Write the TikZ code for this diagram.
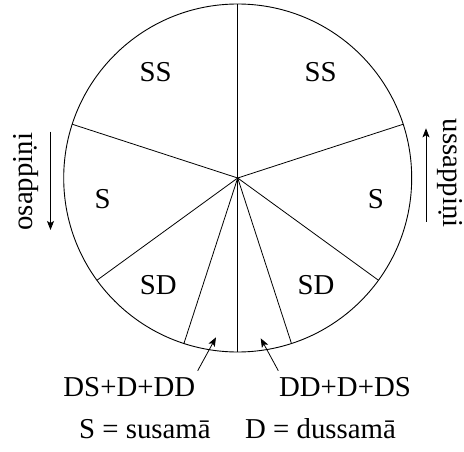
\documentclass[tikz,border=0pt]{standalone}
\usepackage{fontspec}
\setmainfont{Liberation Serif}
\usetikzlibrary{arrows.meta,calc}
\begin{document}
\begin{tikzpicture}[x=1pt,y=1pt,
  rim/.style={line width=0.9pt},
  spoke/.style={line width=0.8pt},
  lbl/.style={inner sep=0pt,anchor=base,font=\fontsize{28.8}{34}\selectfont},
  pointer/.style={line width=0.8pt,-{Stealth[length=9pt,width=7pt,inset=2pt]}}]
\clip (0,0) rectangle (464,451);
\fill[white] (0,0) rectangle (464,451);

% the wheel and its eight spokes
\coordinate (hub) at (237.7,273);
\draw[rim] (hub) circle[radius=174];
\foreach \ang [count=\i] in {90,18,-36,-72,-90,-108,-144,162}
  \coordinate (r\i) at ($(hub)+(\ang:174)$);
\foreach \i in {1,...,8}
  \draw[spoke] (hub) -- (r\i);

% sector names
\node[lbl] (ssl) at (155.7,370) {SS};
\node[lbl] (ssr) at (320.7,370) {SS};
\node[lbl] (sl)  at (102.7,242.7) {S};
\node[lbl] (sr)  at (376,242.7) {S};
\node[lbl] (sdl) at (158.3,156.7) {SD};
\node[lbl] (sdr) at (316,156.7) {SD};

% the two narrow sectors at the bottom
\node[lbl] (dl) at (129.3,54.3) {DS+D+DD};
\node[lbl] (dr) at (345,54.3) {DD+D+DS};
\coordinate (dlfrom) at (197.7,80.3);
\coordinate (dlto)   at (216,113.7);
\coordinate (drfrom) at (278.3,80.3);
\coordinate (drto)   at (260.7,112.7);
\draw[pointer] (dlfrom) -- (dlto);
\draw[pointer] (drfrom) -- (drto);

% key
\node[lbl,anchor=base west] (keys) at (79,12.7) {S = susamā};
\node[lbl,anchor=base west] (keyd) at (245,12.7) {D = dussamā};

% descending and ascending half-cycles
\node[lbl,rotate=90]  (osa) at (32.5,269.3) {osappiṇi};
\node[lbl,rotate=-90] (ussa) at (443.5,277.7) {ussappiṇi};
\coordinate (osatop) at (50.5,319.3);
\coordinate (osabot) at (50.5,221);
\coordinate (ussabot) at (426,229.3);
\coordinate (ussatop) at (426,322.7);
\draw[pointer] (osatop) -- (osabot);
\draw[pointer] (ussabot) -- (ussatop);
\end{tikzpicture}
\end{document}
